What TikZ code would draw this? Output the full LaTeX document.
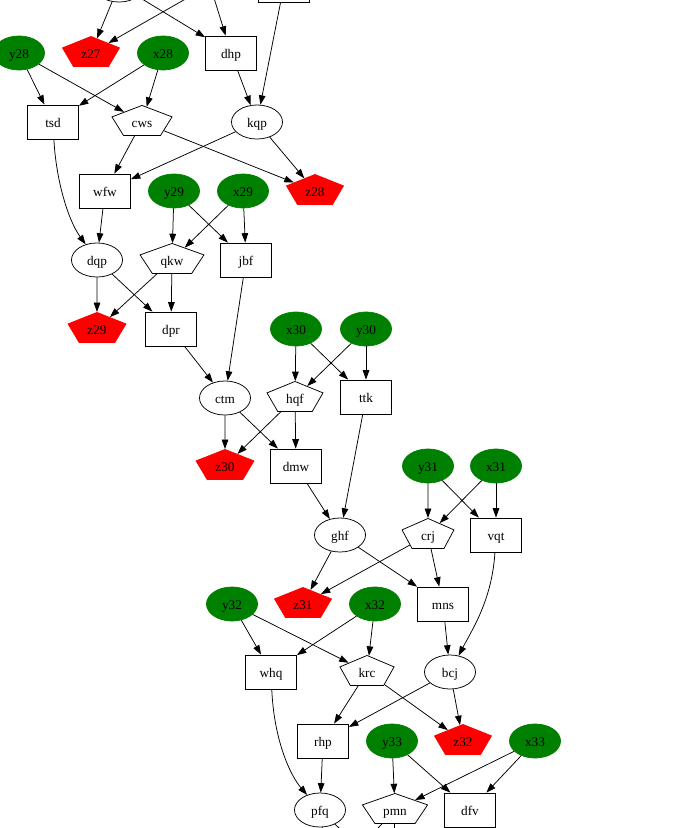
\documentclass[tikz,border=0pt]{standalone}
\usepackage{fontspec}
\setmainfont{Liberation Serif}
\usepackage{graphicx}
\usetikzlibrary{shapes.geometric,arrows.meta}
\definecolor{gvgreen}{RGB}{0,128,0}
\definecolor{gvred}{RGB}{255,0,0}
\newcommand\pentnode[5]{%
  \pgfmathsetmacro\pentinv{1/#2}%
  \node[#1, xscale=#2] (#3) at (#4) {\scalebox{\pentinv}[1]{#5}};}
\begin{document}
\begin{tikzpicture}[x=1.058pt, y=-1.058pt,
  every node/.style={font=\fontsize{14pt}{16pt}\selectfont, inner sep=0pt, text height=12.4pt, text depth=1pt},
  boxnode/.style={draw, rectangle, minimum width=54pt, minimum height=36pt, line width=0.8pt},
  ellnode/.style={draw, ellipse, minimum width=54pt, minimum height=36pt, line width=0.8pt},
  greennode/.style={ellnode, fill=gvgreen, draw=gvgreen},
  pentshape/.style={draw, regular polygon, regular polygon sides=5, minimum size=35pt, line width=0.8pt},
  redshape/.style={pentshape, fill=gvred, draw=gvred},
  arr/.style={draw, line width=0.8pt, -{Triangle[length=10pt,width=7pt]}}]
\useasboundingbox (0,0) rectangle (683,828);
\clip (0,0) rectangle (683,828);
% rank -15 (cut off)
\node[ellnode] (e27) at (119,-15) {};
\pentnode{pentshape}{1.9}{p27}{210,-15}{}
\node[boxnode] (b27) at (284,-15) {};
% rank 53
\node[greennode] (y28) at (19,53) {y28};
\pentnode{redshape}{1.81}{z27}{91,53}{z27}
\node[greennode] (x28) at (163,53) {x28};
\node[boxnode] (dhp) at (231,53) {dhp};
% rank 122
\node[boxnode] (tsd) at (53,122) {tsd};
\pentnode{pentshape}{1.91}{cws}{142,122}{cws}
\node[ellnode] (kqp) at (257,122) {kqp};
% rank 191
\node[boxnode] (wfw) at (105,191) {wfw};
\node[greennode] (y29) at (174,191) {y29};
\node[greennode] (x29) at (243,191) {x29};
\pentnode{redshape}{1.81}{z28}{315,191}{z28}
% rank 260
\node[ellnode] (dqp) at (97,260) {dqp};
\pentnode{pentshape}{2.03}{qkw}{172,260}{qkw}
\node[boxnode] (jbf) at (246,260) {jbf};
% rank 329
\pentnode{redshape}{1.84}{z29}{97,329}{z29}
\node[boxnode] (dpr) at (171,329) {dpr};
\node[greennode] (x30) at (296,329) {x30};
\node[greennode] (y30) at (366,329) {y30};
% rank 398
\node[ellnode] (ctm) at (225,398) {ctm};
\pentnode{pentshape}{1.78}{hqf}{295,398}{hqf}
\node[boxnode] (ttk) at (366,397) {ttk};
% rank 466
\pentnode{redshape}{1.84}{z30}{225,466}{z30}
\node[boxnode] (dmw) at (296,466) {dmw};
\node[greennode] (y31) at (428,466) {y31};
\node[greennode] (x31) at (496,466) {x31};
% rank 535
\node[ellnode] (ghf) at (340,535) {ghf};
\pentnode{pentshape}{1.65}{crj}{428,535}{crj}
\node[boxnode] (vqt) at (496,535) {vqt};
% rank 604
\node[greennode] (y32) at (232,604) {y32};
\pentnode{redshape}{1.81}{z31}{303,604}{z31}
\node[greennode] (x32) at (375,604) {x32};
\node[boxnode] (mns) at (443,604) {mns};
% rank 672
\node[boxnode] (whq) at (271,672) {whq};
\pentnode{pentshape}{1.72}{krc}{367,672}{krc}
\node[ellnode] (bcj) at (450,672) {bcj};
% rank 741
\node[boxnode] (rhp) at (323,741) {rhp};
\node[greennode] (y33) at (392,741) {y33};
\pentnode{redshape}{1.81}{z32}{463,741}{z32}
\node[greennode] (x33) at (535,741) {x33};
% rank 810
\node[ellnode] (pfq) at (320,810) {pfq};
\pentnode{pentshape}{2.07}{pmn}{395,810}{pmn}
\node[boxnode] (dfv) at (470,810) {dfv};
% rank 879 (cut off)
\pentnode{redshape}{1.81}{z33}{330,879}{}
\node[boxnode] (a33) at (393,879) {};
% edges
\draw[arr] (e27) -- (z27);
\draw[arr] (e27) -- (dhp);
\draw[arr] (p27) -- (z27);
\draw[arr] (p27) -- (dhp);
\draw[arr] (b27) -- (kqp);
\draw[arr] (dhp) -- (kqp);
\draw[arr] (y28) -- (tsd);
\draw[arr] (y28) -- (cws);
\draw[arr] (x28) -- (tsd);
\draw[arr] (x28) -- (cws);
\draw[arr] (kqp) -- (wfw);
\draw[arr] (kqp) -- (z28);
\draw[arr] (cws) -- (wfw);
\draw[arr] (cws) -- (z28);
\draw[arr] (tsd) .. controls (56,180) and (68,220) .. (dqp);
\draw[arr] (wfw) -- (dqp);
\draw[arr] (y29) -- (qkw);
\draw[arr] (y29) -- (jbf);
\draw[arr] (x29) -- (qkw);
\draw[arr] (x29) -- (jbf);
\draw[arr] (dqp) -- (z29);
\draw[arr] (dqp) -- (dpr);
\draw[arr] (qkw) -- (z29);
\draw[arr] (qkw) -- (dpr);
\draw[arr] (dpr) -- (ctm);
\draw[arr] (jbf) -- (ctm);
\draw[arr] (x30) -- (hqf);
\draw[arr] (x30) -- (ttk);
\draw[arr] (y30) -- (hqf);
\draw[arr] (y30) -- (ttk);
\draw[arr] (ctm) -- (z30);
\draw[arr] (ctm) -- (dmw);
\draw[arr] (hqf) -- (z30);
\draw[arr] (hqf) -- (dmw);
\draw[arr] (dmw) -- (ghf);
\draw[arr] (ttk) -- (ghf);
\draw[arr] (y31) -- (crj);
\draw[arr] (y31) -- (vqt);
\draw[arr] (x31) -- (crj);
\draw[arr] (x31) -- (vqt);
\draw[arr] (ghf) -- (z31);
\draw[arr] (ghf) -- (mns);
\draw[arr] (crj) -- (z31);
\draw[arr] (crj) -- (mns);
\draw[arr] (mns) -- (bcj);
\draw[arr] (vqt) .. controls (492,600) and (472,630) .. (bcj);
\draw[arr] (y32) -- (whq);
\draw[arr] (y32) -- (krc);
\draw[arr] (x32) -- (whq);
\draw[arr] (x32) -- (krc);
\draw[arr] (bcj) -- (rhp);
\draw[arr] (bcj) -- (z32);
\draw[arr] (krc) -- (rhp);
\draw[arr] (krc) -- (z32);
\draw[arr] (whq) .. controls (274,740) and (290,775) .. (pfq);
\draw[arr] (rhp) -- (pfq);
\draw[arr] (y33) -- (pmn);
\draw[arr] (y33) -- (dfv);
\draw[arr] (x33) -- (pmn);
\draw[arr] (x33) -- (dfv);
\draw[arr] (pfq) -- (z33);
\draw[arr] (pfq) -- (a33);
\draw[arr] (pmn) -- (z33);
\draw[arr] (pmn) -- (a33);
\end{tikzpicture}
\end{document}
